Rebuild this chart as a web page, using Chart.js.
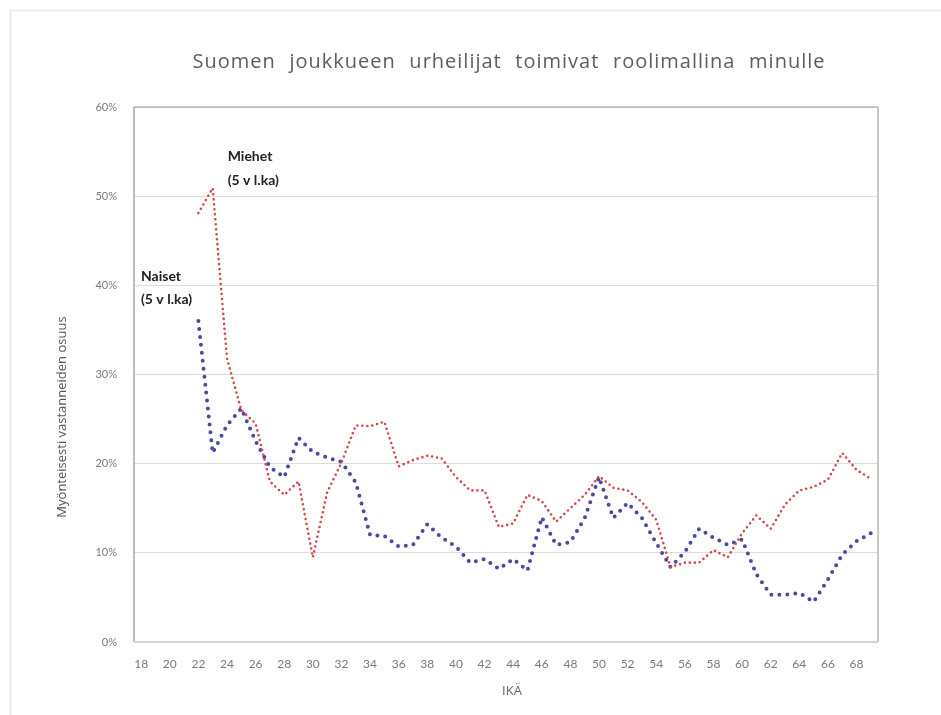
<!DOCTYPE html>
<html>
<head>
<meta charset="utf-8">
<script src="https://cdn.jsdelivr.net/npm/chart.js@4.4.1/dist/chart.umd.min.js"></script>
<style>
  html, body { margin: 0; padding: 0; background: #ffffff; }
  #wrap { width: 941px; height: 715px; position: relative; }
</style>
</head>
<body>
<div id="wrap"><canvas id="c" width="941" height="715"></canvas></div>
<script>
const chartTitle = 'Suomen joukkueen urheilijat toimivat roolimallina minulle';
const yAxisTitle = 'Myönteisesti vastanneiden osuus';
const xAxisTitle = 'IKÄ';

const ages = [18,19,20,21,22,23,24,25,26,27,28,29,30,31,32,33,34,35,36,37,38,39,40,41,42,43,44,45,46,47,48,49,50,51,52,53,54,55,56,57,58,59,60,61,62,63,64,65,66,67,68,69];

const naiset = [null,null,null,null,
  36.0,21.2,24.3,26.2,22.5,19.6,18.5,22.9,21.3,20.7,20.2,17.9,12.0,11.9,10.7,10.9,13.2,11.7,10.7,8.9,
  9.3,8.2,9.3,8.0,14.0,10.9,11.2,13.9,18.5,13.9,15.6,13.9,11.1,8.4,10.1,12.7,11.7,10.9,11.5,7.6,
  5.3,5.3,5.5,4.5,7.0,9.8,11.3,12.2];

const miehet = [null,null,null,null,
  48.1,50.9,31.8,26.0,24.5,18.0,16.5,18.0,9.5,16.8,20.1,24.3,24.2,24.7,19.7,20.4,20.9,20.6,18.5,17.0,
  17.0,12.9,13.3,16.5,15.8,13.5,15.0,16.5,18.6,17.3,17.0,15.7,13.7,8.4,8.9,8.9,10.3,9.5,12.2,14.2,
  12.7,15.4,17.0,17.4,18.2,21.2,19.3,18.3];

const yTicks = [0,10,20,30,40,50,60];

// annotation labels: [line1, line2]
const miehetLabel = ['Miehet', '(5 v l.ka)'];
const naisetLabel = ['Naiset', '(5 v l.ka)'];

const decor = {
  id: 'decor',
  beforeDraw(chart) {
    const ctx = chart.ctx;
    ctx.save();
    ctx.fillStyle = '#ffffff';
    ctx.fillRect(0, 0, chart.width, chart.height);
    ctx.strokeStyle = '#e6e6e6';
    ctx.lineWidth = 1.5;
    ctx.strokeRect(10.5, 10.5, chart.width + 20, chart.height + 20);
    ctx.restore();
  },
  beforeDatasetsDraw(chart) {
    const ctx = chart.ctx;
    const a = chart.chartArea;
    ctx.save();
    ctx.strokeStyle = '#b9b9ac';
    ctx.lineWidth = 1.5;
    ctx.beginPath();
    ctx.moveTo(a.left, a.top); ctx.lineTo(a.right, a.top);
    ctx.moveTo(a.right, a.top); ctx.lineTo(a.right, a.bottom);
    ctx.stroke();
    ctx.strokeStyle = '#a9a9a9';
    ctx.beginPath();
    ctx.moveTo(a.left, a.top); ctx.lineTo(a.left, a.bottom);
    ctx.stroke();
    ctx.strokeStyle = '#d4d4d4';
    ctx.lineWidth = 2;
    ctx.beginPath();
    ctx.moveTo(a.left, a.bottom); ctx.lineTo(a.right, a.bottom);
    ctx.stroke();
    ctx.restore();
  },
  afterDraw(chart) {
    const ctx = chart.ctx;
    const a = chart.chartArea;
    const xs = chart.scales.x, ys = chart.scales.y;
    ctx.save();
    // title: lightly spaced letters, wider word gaps
    ctx.fillStyle = '#5e5e5e';
    ctx.font = '20px "Open Sans", "Liberation Sans", sans-serif';
    ctx.textAlign = 'center';
    ctx.textBaseline = 'middle';
    const hasLS = 'letterSpacing' in ctx, hasWS = 'wordSpacing' in ctx;
    if (hasLS) ctx.letterSpacing = '1px';
    const w = ctx.measureText(chartTitle).width;
    const gaps = chartTitle.split(' ').length - 1;
    const extra = Math.max(0, (633 - w) / gaps);
    if (hasWS) ctx.wordSpacing = extra.toFixed(2) + 'px';
    ctx.fillText(chartTitle, 509, 62);
    if (hasWS) ctx.wordSpacing = '0px';
    if (hasLS) ctx.letterSpacing = '0px';

    // axis titles
    ctx.fillStyle = '#555555';
    ctx.font = '13px "Open Sans", "Liberation Sans", sans-serif';
    ctx.save();
    ctx.translate(62, 417);
    ctx.rotate(-Math.PI / 2);
    ctx.fillText(yAxisTitle, 0, 0);
    ctx.restore();
    ctx.fillStyle = '#666666';
    ctx.fillText(xAxisTitle, (a.left + a.right) / 2 + 6, 691);

    // series labels
    ctx.fillStyle = '#222222';
    ctx.font = 'bold 14px "Lato", "Liberation Sans", sans-serif';
    ctx.textAlign = 'left';
    const mx = xs.getPixelForValue(ages.indexOf(23)) + 15;
    const my = ys.getPixelForValue(54.4);
    ctx.fillText(miehetLabel[0], mx, my);
    ctx.fillText(miehetLabel[1], mx, my + 24);
    const nx = a.left + 7;
    const ny = ys.getPixelForValue(41.0);
    ctx.fillText(naisetLabel[0], nx, ny);
    ctx.fillText(naisetLabel[1], nx, ny + 23);
    ctx.restore();
  }
};

new Chart(document.getElementById('c'), {
  type: 'line',
  data: {
    labels: ages,
    datasets: [
      {
        label: 'Miehet',
        data: miehet,
        borderColor: '#d9434f',
        borderWidth: 2.6,
        borderDash: [0, 5],
        borderCapStyle: 'round',
        pointRadius: 0,
        tension: 0,
        spanGaps: false
      },
      {
        label: 'Naiset',
        data: naiset,
        borderColor: '#4a4aa6',
        borderWidth: 4,
        borderDash: [0, 8],
        borderCapStyle: 'round',
        pointRadius: 0,
        tension: 0,
        spanGaps: false
      }
    ]
  },
  options: {
    responsive: false,
    animation: false,
    layout: { padding: { left: 0, top: 107, right: 63, bottom: 0 } },
    plugins: {
      legend: { display: false },
      title: { display: false },
      tooltip: { enabled: false }
    },
    scales: {
      x: {
        type: 'category',
        offset: true,
        afterFit(scale) { scale.height = 73; },
        grid: { display: false, drawTicks: false },
        border: { display: false },
        ticks: {
          autoSkip: false,
          maxRotation: 0,
          minRotation: 0,
          padding: 15,
          color: '#7a7a7a',
          font: { family: 'Lato, "Liberation Sans", sans-serif', size: 12 },
          callback(val, idx) { return ages[idx] % 2 === 0 ? String(ages[idx]) : ''; }
        }
      },
      y: {
        min: 0,
        max: 60,
        afterFit(scale) { scale.width = 134; },
        afterBuildTicks(scale) { scale.ticks = yTicks.map(v => ({ value: v })); },
        grid: { color: '#dcdcdc', lineWidth: 1, drawTicks: false },
        border: { display: false },
        ticks: {
          padding: 17,
          color: '#7a7a7a',
          font: { family: 'Lato, "Liberation Sans", sans-serif', size: 11 },
          callback(v) { return v + '%'; }
        }
      }
    }
  },
  plugins: [decor]
});
</script>
</body>
</html>
